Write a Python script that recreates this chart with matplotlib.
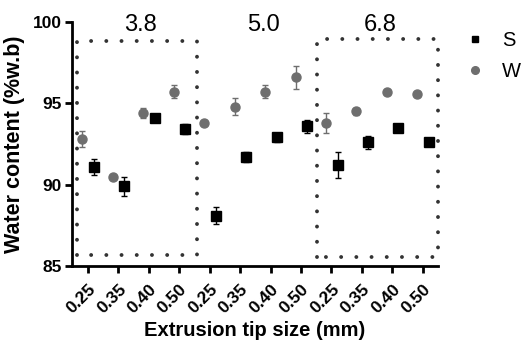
#Imports:
import numpy as np
import matplotlib.pyplot as plt
from matplotlib.lines import Line2D

plt.rcParams['font.family'] = ['Liberation Sans', 'DejaVu Sans']

#Data:
tip_labels = ["0.25", "0.35", "0.40", "0.50"] * 3
group_names = ["3.8", "5.0", "6.8"]
s_mean = [91.1, 89.9, 94.1, 93.4, 88.1, 91.7, 92.9, 93.6, 91.2, 92.6, 93.5, 92.6]
s_err = [0.5, 0.6, 0.15, 0.3, 0.5, 0.3, 0.3, 0.4, 0.8, 0.4, 0.15, 0.15]
w_mean = [92.8, 90.5, 94.4, 95.7, 93.8, 94.8, 95.7, 96.6, 93.8, 94.5, 95.7, 95.6]
w_err = [0.5, 0.1, 0.3, 0.4, 0.1, 0.5, 0.4, 0.7, 0.6, 0.2, 0.1, 0.1]

x = np.arange(1, len(tip_labels) + 1)

#Figure and axes:
fig = plt.figure(figsize=(5.24, 3.43), dpi=100)
ax = fig.add_axes([0.137, 0.2245, 0.699, 0.7115])

w_col = "#6e6e6e"
ax.errorbar(x - 0.18, w_mean, yerr=w_err, fmt="o", color=w_col, ecolor=w_col,
            markersize=6.5, elinewidth=1, capsize=2, capthick=1, zorder=3)
ax.errorbar(x + 0.2, s_mean, yerr=s_err, fmt="s", color="black", ecolor="black",
            markersize=6.5, elinewidth=1, capsize=2, capthick=1, zorder=3)

#Dotted boxes around the first and last groups:
dot = dict(color="#333333", linewidth=2.8, linestyle=(0, (0.01, 3.9)),
           dash_capstyle="round", clip_on=False)
ax.plot([0.64, 0.64, 4.59, 4.59, 0.64], [85.7, 98.85, 98.85, 85.7, 85.7], **dot)
ax.plot([8.52, 8.52, 12.5, 12.5, 8.52], [85.55, 98.95, 98.95, 85.55, 85.55], **dot)

#Group labels:
for xpos, name in zip([2.71, 6.76, 10.6], group_names):
    ax.text(xpos, 99.8, name, ha="center", va="center", fontsize=17)

ax.set_xlim(0.47, 12.5)
ax.set_ylim(85, 100)
ax.set_yticks([85, 90, 95, 100])
ax.set_xticks(x)
ax.set_xticklabels(tip_labels, rotation=45, ha="right", rotation_mode="anchor",
                   fontsize=12.5, fontweight="bold")
for lab in ax.get_yticklabels():
    lab.set_fontweight("bold")
    lab.set_fontsize(12.5)

ax.spines["top"].set_visible(False)
ax.spines["right"].set_visible(False)
ax.spines["left"].set_linewidth(2)
ax.spines["bottom"].set_linewidth(2)
ax.tick_params(width=2, length=5)
ax.tick_params(axis="x", pad=6)
ax.tick_params(axis="y", pad=2)

ax.set_xlabel("Extrusion tip size (mm)", fontsize=14.5, fontweight="bold", labelpad=4)
ax.set_ylabel("Water content (%w.b)", fontsize=15.5, fontweight="bold", labelpad=6)

#Legend with markers only:
handles = [Line2D([], [], linestyle="none", marker="s", color="black", markersize=5),
           Line2D([], [], linestyle="none", marker="o", color=w_col, markersize=5.5)]
fig.legend(handles, ["S", "W"], loc="upper left", bbox_to_anchor=(465 / 524, 0.91),
           frameon=False, fontsize=14.5, handlelength=1.0, handletextpad=0.85,
           labelspacing=0.58, borderpad=0, borderaxespad=0)

#Saving the figure:
fig.savefig("out.png", dpi=100)
